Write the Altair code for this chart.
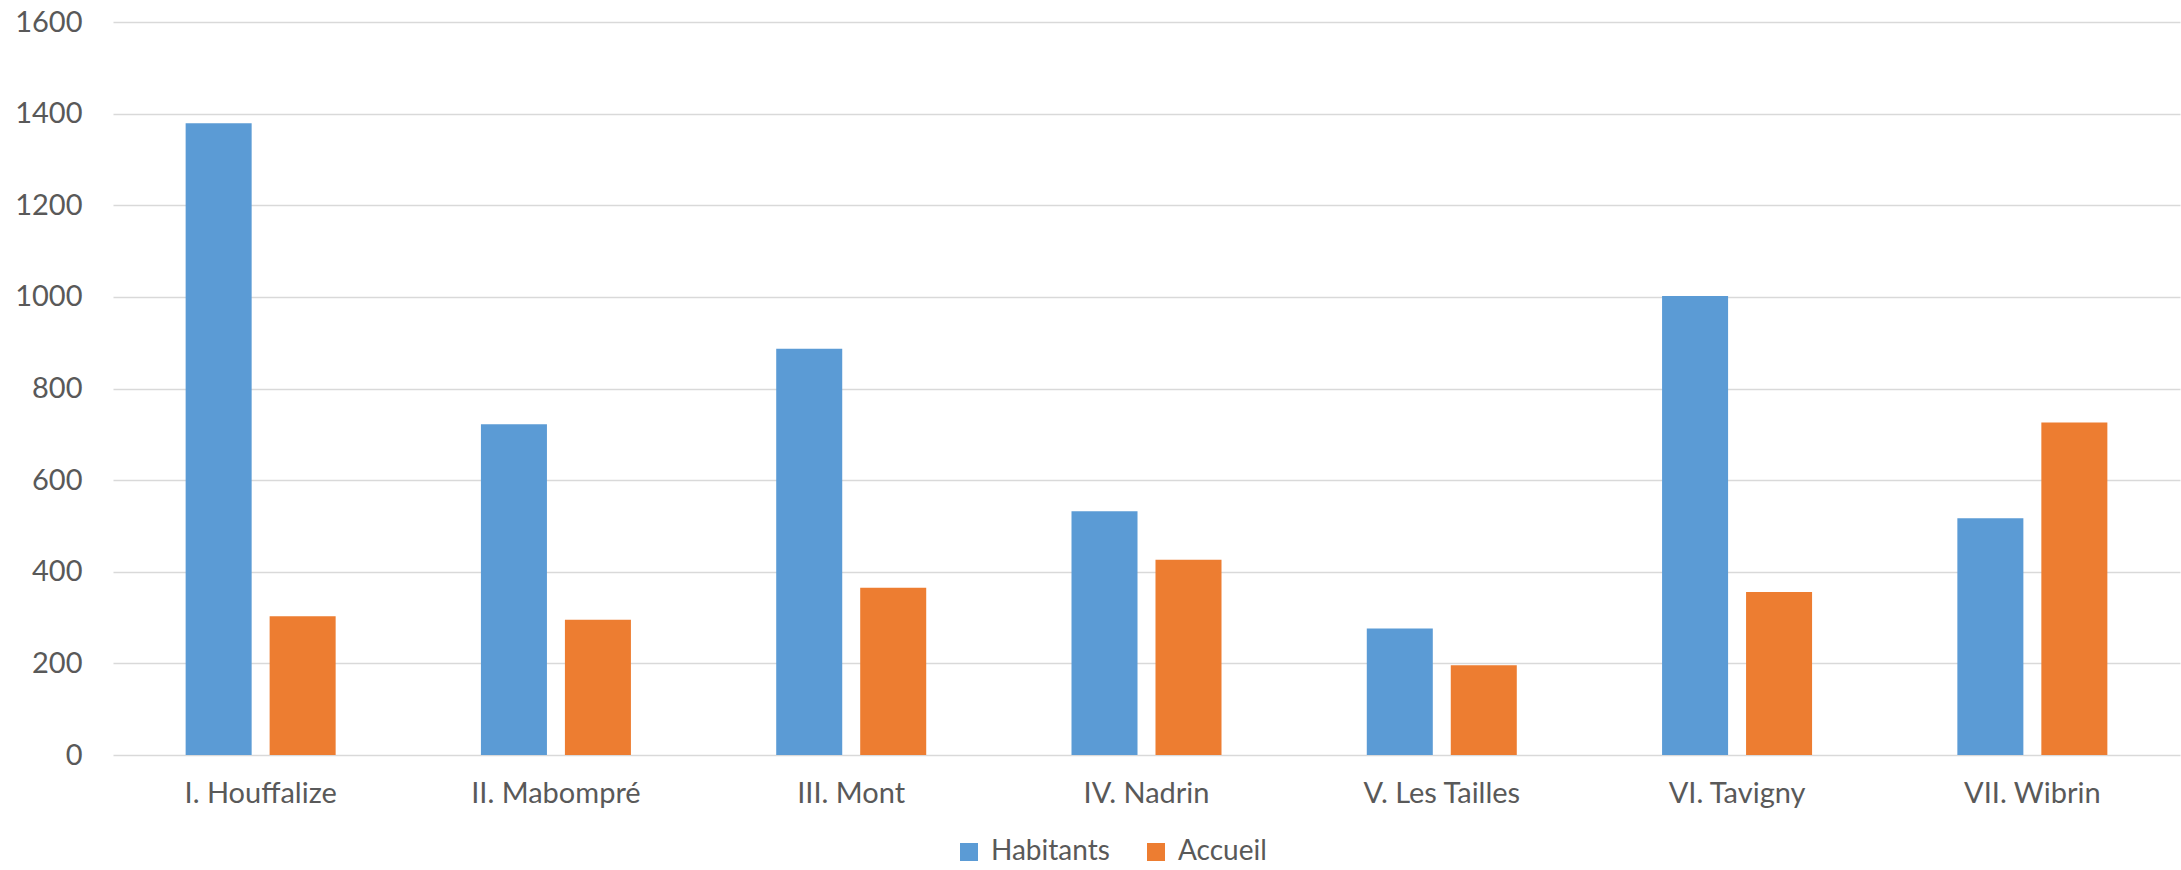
import altair as alt
import pandas as pd

categories = ["I. Houffalize", "II. Mabompré", "III. Mont", "IV. Nadrin",
              "V. Les Tailles", "VI. Tavigny", "VII. Wibrin"]
habitants = [1379, 722, 887, 532, 276, 1002, 517]
accueil = [303, 295, 365, 426, 196, 356, 726]
series = ["Habitants", "Accueil"]
colors = ["#5B9BD5", "#ED7D31"]

rows = []
for c, h, a in zip(categories, habitants, accueil):
    rows.append({"cat": c, "serie": "Habitants", "val": h})
    rows.append({"cat": c, "serie": "Accueil", "val": a})
df = pd.DataFrame(rows)

FONT = "Lato"
TXT = "#595959"

chart = alt.Chart(df).mark_bar().encode(
    x=alt.X("cat:N", sort=categories, title=None,
            scale=alt.Scale(paddingInner=0.492, paddingOuter=0.246),
            axis=alt.Axis(labelAngle=0, labelFontSize=29, labelFont=FONT,
                          labelColor=TXT, ticks=False, domain=False,
                          labelPadding=24, grid=False)),
    xOffset=alt.XOffset("serie:N", sort=series,
                        scale=alt.Scale(paddingInner=0.214, paddingOuter=0)),
    y=alt.Y("val:Q", title=None,
            scale=alt.Scale(domain=[0, 1600], nice=False),
            axis=alt.Axis(values=[0, 200, 400, 600, 800, 1000, 1200, 1400, 1600],
                          format="d",
                          labelFontSize=29, labelFont=FONT, labelColor=TXT,
                          ticks=False, domain=False, labelPadding=31,
                          gridColor="#D9D9D9", gridWidth=1.5)),
    color=alt.Color("serie:N", sort=series,
                    scale=alt.Scale(domain=series, range=colors),
                    legend=alt.Legend(title=None, orient="none", direction="horizontal",
                                      legendX=842, legendY=816,
                                      symbolType="square", symbolSize=324,
                                      symbolStrokeWidth=0, labelFontSize=28,
                                      labelFont=FONT, labelColor=TXT,
                                      labelOffset=8, columnPadding=32, padding=0)),
).properties(
    width=2067, height=733,
    autosize=alt.AutoSizeParams(type="none"),
    padding={"left": 113, "top": 22, "right": 1, "bottom": 115},
    background="white",
).configure_view(stroke=None)

chart.save("out.html", embed_options={"renderer": "svg", "actions": False})
